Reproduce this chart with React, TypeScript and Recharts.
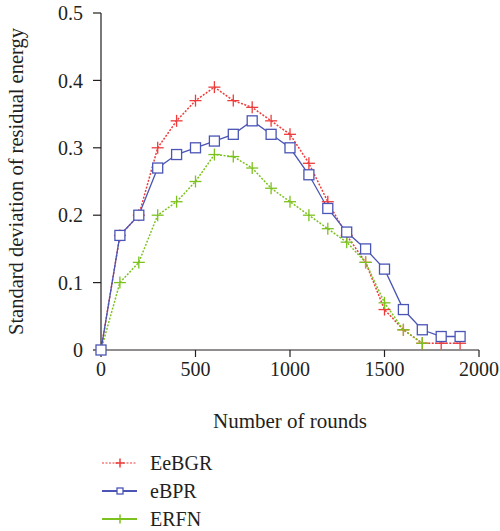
import React from 'react';
import { LineChart, Line, XAxis, YAxis } from 'recharts';

const rounds = [0, 100, 200, 300, 400, 500, 600, 700, 800, 900, 1000, 1100, 1200, 1300, 1400, 1500, 1600, 1700, 1800, 1900];
const eeBGR = [0, 0.17, 0.2, 0.3, 0.34, 0.37, 0.39, 0.37, 0.36, 0.34, 0.32, 0.277, 0.22, 0.17, 0.13, 0.06, 0.03, 0.01, 0.01, 0.01];
const eBPR = [0, 0.17, 0.2, 0.27, 0.29, 0.3, 0.31, 0.32, 0.34, 0.32, 0.3, 0.26, 0.21, 0.175, 0.15, 0.12, 0.06, 0.03, 0.02, 0.02];
const eRFN = [0, 0.1, 0.13, 0.2, 0.22, 0.25, 0.29, 0.287, 0.27, 0.24, 0.22, 0.2, 0.18, 0.16, 0.13, 0.07, 0.03, 0.01, null, null];
const xTicks = [0, 500, 1000, 1500, 2000];
const yTicks = [0, 0.1, 0.2, 0.3, 0.4, 0.5];
const seriesNames = ['EeBGR', 'eBPR', 'ERFN'];

const RED = '#ee3b3b';
const BLUE = '#4a55b5';
const GREEN = '#7cc21e';
const AXIS = '#231f20';
const FONT = '"Liberation Serif", "Times New Roman", serif';

const data = rounds.map((r, i) => ({ r, a: eeBGR[i], b: eBPR[i], c: eRFN[i] }));

const plusDot = (color: string) => (props: any) => {
  const { cx, cy, index, value } = props;
  if (value == null || cx == null || cy == null) return <g key={index} />;
  const s = 6;
  return (
    <g key={index}>
      <line x1={cx - s} y1={cy} x2={cx + s} y2={cy} stroke={color} strokeWidth={1.3} />
      <line x1={cx} y1={cy - s} x2={cx} y2={cy + s} stroke={color} strokeWidth={1.3} />
    </g>
  );
};

const squareDot = (color: string) => (props: any) => {
  const { cx, cy, index, value } = props;
  if (value == null || cx == null || cy == null) return <g key={index} />;
  const s = 5;
  return <rect key={index} x={cx - s} y={cy - s} width={2 * s} height={2 * s} fill="#fff" stroke={color} strokeWidth={1.3} />;
};

const LegendBlock = () => {
  const rows = [
    { name: seriesNames[0], color: RED, dash: '2 1.5', marker: 'plus' },
    { name: seriesNames[1], color: BLUE, dash: undefined, marker: 'square' },
    { name: seriesNames[2], color: GREEN, dash: undefined, marker: 'plus' },
  ];
  return (
    <svg width={300} height={90} style={{ display: 'block', position: 'absolute', left: 0, top: 450 }}>
      {rows.map((row, i) => {
        const y = 13 + i * 28;
        return (
          <g key={row.name}>
            <line x1={102} y1={y} x2={137} y2={y} stroke={row.color} strokeWidth={row.dash ? 1.2 : 2} strokeDasharray={row.dash} />
            {row.marker === 'plus' ? (
              <g>
                <line x1={115.5} y1={y} x2={124.5} y2={y} stroke={row.color} strokeWidth={1.5} />
                <line x1={120} y1={y - 4.5} x2={120} y2={y + 4.5} stroke={row.color} strokeWidth={1.5} />
              </g>
            ) : (
              <rect x={117} y={y - 3} width={6} height={6} fill="#fff" stroke={row.color} strokeWidth={1.3} />
            )}
            <text x={150} y={y} dy="0.35em" fontFamily={FONT} fontSize={20} fill={AXIS}>{row.name}</text>
          </g>
        );
      })}
    </svg>
  );
};

export default function App() {
  return (
    <div style={{ position: 'absolute', left: 0, top: 0, width: 500, height: 531, background: '#fff' }}>
      <LineChart width={500} height={531} data={data} margin={{ top: 13, right: 21, bottom: 151, left: 0 }}>
        <XAxis
          dataKey="r"
          type="number"
          domain={[0, 2000]}
          ticks={xTicks}
          tickSize={7}
          tickMargin={5}
          height={30}
          stroke={AXIS}
          tick={{ fill: AXIS, fontFamily: FONT, fontSize: 20 }}
          axisLine={{ stroke: AXIS, strokeWidth: 1.2 }}
          tickLine={{ stroke: AXIS, strokeWidth: 1.2 }}
          label={{ value: 'Number of rounds', position: 'bottom', offset: 33, style: { fill: AXIS, fontFamily: FONT, fontSize: 21 } }}
        />
        <YAxis
          type="number"
          domain={[0, 0.5]}
          ticks={yTicks}
          width={101}
          tickSize={8}
          tickMargin={10}
          tickFormatter={(v: number) => (v === 0 ? '0' : String(v))}
          stroke={AXIS}
          tick={{ fill: AXIS, fontFamily: FONT, fontSize: 20 }}
          axisLine={{ stroke: AXIS, strokeWidth: 1.2 }}
          tickLine={{ stroke: AXIS, strokeWidth: 1.2 }}
          label={{ value: 'Standard deviation of residual energy', angle: -90, position: 'insideLeft', offset: 16, style: { textAnchor: 'middle', fill: AXIS, fontFamily: FONT, fontSize: 20.5 } }}
        />
        <Line dataKey="a" name={seriesNames[0]} stroke={RED} strokeWidth={1.5} strokeDasharray="2 1.5" dot={plusDot(RED)} activeDot={false} isAnimationActive={false} />
        <Line dataKey="c" name={seriesNames[2]} stroke={GREEN} strokeWidth={1.5} strokeDasharray="2 1.5" dot={plusDot(GREEN)} activeDot={false} isAnimationActive={false} />
        <Line dataKey="b" name={seriesNames[1]} stroke={BLUE} strokeWidth={1.3} dot={squareDot(BLUE)} activeDot={false} isAnimationActive={false} />
      </LineChart>
      <LegendBlock />
    </div>
  );
}
